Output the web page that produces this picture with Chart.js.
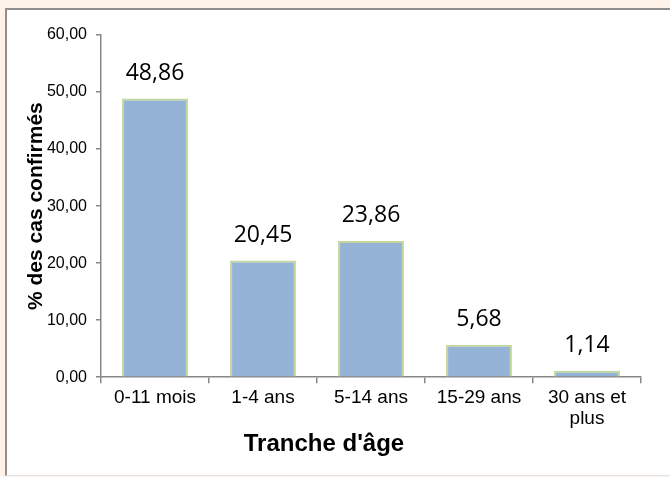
<!DOCTYPE html>
<html>
<head>
<meta charset="utf-8">
<script src="https://cdn.jsdelivr.net/npm/chart.js@4"></script>
<style>
    body { margin: 0; background: #fdf3ea; }
    #box {
        position: absolute; left: 5px; top: 8px;
        width: 663px; height: 465px;
        background: #fff;
        border-left: 2px solid #8f8f8f;
        border-top: 2px solid #8f8f8f;
        border-bottom: 1px solid #e3e3e3;
    }
</style>
</head>
<body>
<div id="box"><canvas id="ageChart"></canvas></div>
<script>
// Répartition des cas confirmés par tranche d'âge
const categories = ["0-11 mois", "1-4 ans", "5-14 ans", "15-29 ans", ["30 ans et", "plus"]];
const pourcentages = [48.86, 20.45, 23.86, 5.68, 1.14];
const yTicks = [0, 10, 20, 30, 40, 50, 60];

const fmt = v => v.toFixed(2).replace('.', ',');

// valeurs au-dessus des barres
const barLabels = {
    id: 'barLabels',
    afterDatasetsDraw(chart) {
        const ctx = chart.ctx;
        ctx.save();
        ctx.font = '23px "Open Sans"';
        ctx.fillStyle = '#000';
        ctx.textAlign = 'center';
        ctx.textBaseline = 'alphabetic';
        chart.getDatasetMeta(0).data.forEach((bar, i) => {
            ctx.fillText(fmt(pourcentages[i]), bar.x, bar.y - 19);
        });
        ctx.restore();
    }
};

new Chart(document.getElementById("ageChart"), {
    type: 'bar',
    data: {
        labels: categories,
        datasets: [{
            data: pourcentages,
            backgroundColor: "#95b3d7",
            borderColor: "#c4d79b",
            borderWidth: 2,
            categoryPercentage: 1,
            barPercentage: 0.61
        }]
    },
    options: {
        responsive: true,
        maintainAspectRatio: false,
        animation: false,
        layout: { padding: { left: 0, top: 25, right: 29, bottom: 0 } },
        plugins: {
            legend: { display: false },
            tooltip: { enabled: false },
            title: {
                display: true,
                position: 'bottom',
                text: "Tranche d'âge",
                color: '#000',
                font: { family: 'Liberation Sans', size: 24, weight: 'bold' },
                padding: { top: -8, bottom: 16 }
            }
        },
        scales: {
            x: {
                grid: { drawOnChartArea: false, color: '#878787', tickLength: 6, lineWidth: 1.5 },
                border: { color: '#878787', width: 1.5 },
                ticks: { color: '#000', font: { family: 'Liberation Sans', size: 19, lineHeight: 1.1 }, padding: 4 },
                afterFit(scale) { scale.height = 61; }
            },
            y: {
                min: 0,
                max: 60,
                afterBuildTicks(scale) { scale.ticks = yTicks.map(v => ({ value: v })); },
                grid: { drawOnChartArea: false, color: '#878787', tickLength: 5, lineWidth: 1.5 },
                border: { color: '#878787', width: 1.5 },
                ticks: {
                    color: '#000',
                    font: { family: 'Liberation Sans', size: 16 },
                    padding: 9,
                    callback: v => fmt(v)
                },
                title: {
                    display: true,
                    text: '% des cas confirmés',
                    color: '#000',
                    font: { family: 'Liberation Sans', size: 21, weight: 'bold' },
                    padding: { top: 17, bottom: 0 }
                },
                afterFit(scale) { scale.width = 94; }
            }
        }
    },
    plugins: [barLabels]
});
</script>
</body>
</html>
